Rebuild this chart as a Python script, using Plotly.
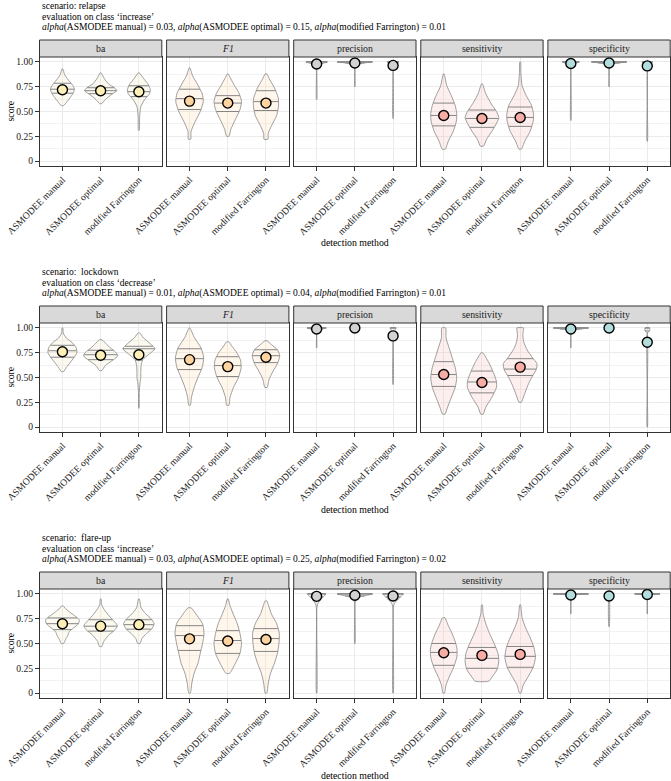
import plotly.graph_objects as go
import numpy as np

# ---------------- data ----------------
methods = ["ASMODEE manual", "ASMODEE optimal", "modified Farrington"]
metrics = ["ba", "F1", "precision", "sensitivity", "specificity"]
metric_labels = ["ba", "<i>F1</i>", "precision", "sensitivity", "specificity"]
scenarios = ["relapse", "lockdown", "flare-up"]
eval_classes = ["increase", "decrease", "increase"]
alpha_manual = [0.03, 0.01, 0.03]
alpha_optimal = [0.15, 0.04, 0.25]
alpha_farrington = [0.01, 0.01, 0.02]
y_ticks = [0, 0.25, 0.5, 0.75, 1.0]
y_ticklabels = ["0", "0.25", "0.50", "0.75", "1.00"]

# mean score per metric, per method
relapse_means = {"ba": [0.72, 0.71, 0.70], "F1": [0.605, 0.585, 0.585],
                 "precision": [0.98, 0.99, 0.965], "sensitivity": [0.46, 0.43, 0.44],
                 "specificity": [0.985, 0.99, 0.96]}
lockdown_means = {"ba": [0.76, 0.725, 0.73], "F1": [0.68, 0.61, 0.705],
                  "precision": [0.99, 1.0, 0.92], "sensitivity": [0.53, 0.45, 0.605],
                  "specificity": [0.99, 1.0, 0.855]}
flareup_means = {"ba": [0.70, 0.675, 0.69], "F1": [0.547, 0.525, 0.54],
                 "precision": [0.976, 0.987, 0.98], "sensitivity": [0.406, 0.38, 0.39],
                 "specificity": [0.99, 0.98, 0.995]}

# quartiles (25%, 50%, 75%) per metric, per method
relapse_quartiles = {"ba": [[0.685, 0.725, 0.785], [0.68, 0.71, 0.74], [0.65, 0.70, 0.76]],
                     "F1": [[0.52, 0.63, 0.725], [0.50, 0.585, 0.66], [0.51, 0.60, 0.71]],
                     "precision": [[0.98, 1.0, 1.0], [0.99, 1.0, 1.0], [0.97, 1.0, 1.0]],
                     "sensitivity": [[0.355, 0.46, 0.585], [0.34, 0.43, 0.515], [0.35, 0.44, 0.545]],
                     "specificity": [[0.98, 1.0, 1.0], [0.99, 1.0, 1.0], [0.97, 1.0, 1.0]]}
lockdown_quartiles = {"ba": [[0.705, 0.77, 0.825], [0.68, 0.73, 0.775], [0.675, 0.79, 0.815]],
                      "F1": [[0.58, 0.69, 0.79], [0.51, 0.62, 0.71], [0.65, 0.72, 0.78]],
                      "precision": [[0.99, 1.0, 1.0], [1.0, 1.0, 1.0], [0.95, 1.0, 1.0]],
                      "sensitivity": [[0.41, 0.53, 0.66], [0.345, 0.455, 0.565], [0.52, 0.585, 0.69]],
                      "specificity": [[0.99, 1.0, 1.0], [1.0, 1.0, 1.0], [0.97, 1.0, 1.0]]}
flareup_quartiles = {"ba": [[0.64, 0.70, 0.758], [0.625, 0.675, 0.74], [0.645, 0.69, 0.74]],
                     "F1": [[0.43, 0.58, 0.68], [0.40, 0.53, 0.63], [0.42, 0.55, 0.65]],
                     "precision": [[0.97, 1.0, 1.0], [0.98, 1.0, 1.0], [0.97, 1.0, 1.0]],
                     "sensitivity": [[0.28, 0.41, 0.50], [0.25, 0.35, 0.46], [0.26, 0.37, 0.47]],
                     "specificity": [[0.99, 1.0, 1.0], [1.0, 1.0, 1.0], [0.99, 1.0, 1.0]]}

# violin density outline: [score, half-width] pairs per method
relapse_shapes = {
    "ba": [[[0.56, 0.03], [0.60, 0.12], [0.65, 0.22], [0.70, 0.30], [0.73, 0.31], [0.77, 0.26], [0.82, 0.15], [0.87, 0.06], [0.93, 0.01]],
           [[0.58, 0.03], [0.62, 0.12], [0.67, 0.28], [0.71, 0.42], [0.74, 0.36], [0.78, 0.20], [0.83, 0.10], [0.89, 0.01]],
           [[0.31, 0.01], [0.45, 0.02], [0.55, 0.05], [0.62, 0.15], [0.68, 0.28], [0.72, 0.30], [0.77, 0.25], [0.82, 0.15], [0.89, 0.01]]],
    "F1": [[[0.22, 0.03], [0.30, 0.04], [0.40, 0.15], [0.50, 0.28], [0.60, 0.36], [0.68, 0.33], [0.78, 0.20], [0.86, 0.08], [0.94, 0.01]],
           [[0.25, 0.03], [0.32, 0.08], [0.42, 0.20], [0.52, 0.32], [0.60, 0.36], [0.68, 0.30], [0.76, 0.18], [0.83, 0.08], [0.88, 0.01]],
           [[0.22, 0.05], [0.28, 0.06], [0.36, 0.15], [0.46, 0.28], [0.56, 0.33], [0.64, 0.32], [0.74, 0.22], [0.82, 0.10], [0.88, 0.02]]],
    "precision": [[[0.62, 0.005], [0.90, 0.005], [0.95, 0.01], [0.97, 0.05], [0.99, 0.20], [1.0, 0.28]],
                  [[0.75, 0.005], [0.95, 0.005], [0.97, 0.02], [0.99, 0.25], [1.0, 0.46]],
                  [[0.43, 0.005], [0.90, 0.005], [0.95, 0.02], [0.98, 0.08], [1.0, 0.15]]],
    "sensitivity": [[[0.12, 0.04], [0.20, 0.12], [0.30, 0.25], [0.40, 0.33], [0.48, 0.34], [0.56, 0.30], [0.66, 0.20], [0.76, 0.08], [0.88, 0.01]],
                    [[0.15, 0.04], [0.22, 0.12], [0.30, 0.26], [0.38, 0.38], [0.44, 0.44], [0.50, 0.38], [0.58, 0.24], [0.68, 0.10], [0.78, 0.01]],
                    [[0.12, 0.03], [0.20, 0.12], [0.30, 0.26], [0.40, 0.34], [0.47, 0.35], [0.56, 0.30], [0.66, 0.16], [0.76, 0.05], [0.88, 0.02], [1.0, 0.01]]],
    "specificity": [[[0.41, 0.005], [0.93, 0.005], [0.96, 0.02], [0.98, 0.08], [1.0, 0.22]],
                    [[0.75, 0.005], [0.95, 0.005], [0.98, 0.10], [1.0, 0.46]],
                    [[0.20, 0.005], [0.95, 0.005], [0.98, 0.05], [1.0, 0.14]]],
}
lockdown_shapes = {
    "ba": [[[0.56, 0.03], [0.60, 0.10], [0.65, 0.20], [0.70, 0.30], [0.75, 0.38], [0.80, 0.36], [0.85, 0.26], [0.90, 0.10], [0.95, 0.02], [1.0, 0.01]],
           [[0.57, 0.03], [0.62, 0.12], [0.67, 0.30], [0.72, 0.45], [0.76, 0.38], [0.80, 0.25], [0.84, 0.14], [0.88, 0.04]],
           [[0.19, 0.005], [0.35, 0.01], [0.45, 0.03], [0.50, 0.05], [0.55, 0.05], [0.62, 0.06], [0.68, 0.10], [0.74, 0.28], [0.79, 0.42], [0.84, 0.30], [0.90, 0.12], [0.95, 0.02]]],
    "F1": [[[0.22, 0.02], [0.30, 0.05], [0.40, 0.12], [0.50, 0.22], [0.60, 0.33], [0.70, 0.37], [0.80, 0.30], [0.90, 0.13], [1.0, 0.01]],
           [[0.22, 0.03], [0.30, 0.06], [0.40, 0.15], [0.50, 0.28], [0.60, 0.35], [0.68, 0.33], [0.76, 0.22], [0.82, 0.10], [0.86, 0.03]],
           [[0.40, 0.03], [0.48, 0.08], [0.56, 0.18], [0.64, 0.30], [0.72, 0.36], [0.78, 0.30], [0.83, 0.15], [0.87, 0.03]]],
    "precision": [[[0.80, 0.005], [0.95, 0.01], [0.98, 0.08], [1.0, 0.25]],
                  [[0.99, 0.005], [1.0, 0.01]],
                  [[0.43, 0.005], [0.85, 0.005], [0.90, 0.01], [0.95, 0.03], [0.98, 0.05], [1.0, 0.08]]],
    "sensitivity": [[[0.13, 0.03], [0.20, 0.10], [0.30, 0.20], [0.40, 0.30], [0.50, 0.34], [0.60, 0.30], [0.70, 0.22], [0.80, 0.14], [0.90, 0.06], [1.0, 0.05]],
                    [[0.13, 0.03], [0.20, 0.10], [0.30, 0.26], [0.40, 0.38], [0.46, 0.38], [0.55, 0.30], [0.65, 0.18], [0.75, 0.02]],
                    [[0.25, 0.03], [0.32, 0.10], [0.42, 0.20], [0.50, 0.30], [0.58, 0.42], [0.64, 0.44], [0.70, 0.32], [0.78, 0.18], [0.85, 0.10], [0.92, 0.07], [0.97, 0.08], [1.0, 0.09]]],
    "specificity": [[[0.80, 0.005], [0.95, 0.01], [0.98, 0.10], [1.0, 0.46]],
                    [[0.995, 0.005], [1.0, 0.01]],
                    [[0.0, 0.005], [0.95, 0.005], [0.97, 0.06], [1.0, 0.06]]],
}
flareup_shapes = {
    "ba": [[[0.50, 0.03], [0.54, 0.08], [0.58, 0.14], [0.62, 0.18], [0.66, 0.30], [0.70, 0.42], [0.74, 0.44], [0.78, 0.32], [0.82, 0.18], [0.86, 0.06], [0.88, 0.02]],
           [[0.47, 0.03], [0.52, 0.08], [0.58, 0.20], [0.64, 0.38], [0.68, 0.44], [0.72, 0.36], [0.78, 0.22], [0.85, 0.08], [0.90, 0.02], [0.95, 0.01]],
           [[0.50, 0.03], [0.55, 0.08], [0.60, 0.20], [0.65, 0.34], [0.70, 0.40], [0.75, 0.32], [0.80, 0.18], [0.86, 0.06], [0.95, 0.01]]],
    "F1": [[[0.0, 0.02], [0.10, 0.06], [0.20, 0.12], [0.30, 0.22], [0.40, 0.28], [0.50, 0.34], [0.60, 0.38], [0.70, 0.34], [0.78, 0.20], [0.86, 0.04]],
           [[0.20, 0.05], [0.30, 0.20], [0.40, 0.32], [0.50, 0.36], [0.60, 0.32], [0.70, 0.25], [0.80, 0.14], [0.88, 0.06], [0.95, 0.01]],
           [[0.0, 0.02], [0.10, 0.06], [0.20, 0.12], [0.30, 0.22], [0.40, 0.30], [0.50, 0.34], [0.60, 0.35], [0.70, 0.28], [0.80, 0.14], [0.93, 0.02]]],
    "precision": [[[0.0, 0.005], [0.85, 0.005], [0.90, 0.03], [0.95, 0.12], [0.98, 0.20], [1.0, 0.24]],
                  [[0.50, 0.005], [0.90, 0.005], [0.93, 0.02], [0.97, 0.15], [1.0, 0.46]],
                  [[0.0, 0.005], [0.85, 0.005], [0.90, 0.03], [0.95, 0.14], [0.98, 0.22], [1.0, 0.27]]],
    "sensitivity": [[[0.0, 0.02], [0.08, 0.06], [0.16, 0.14], [0.26, 0.26], [0.36, 0.34], [0.44, 0.35], [0.52, 0.30], [0.60, 0.22], [0.68, 0.12], [0.76, 0.03]],
                    [[0.12, 0.18], [0.16, 0.26], [0.24, 0.40], [0.32, 0.44], [0.40, 0.42], [0.50, 0.32], [0.60, 0.20], [0.70, 0.10], [0.80, 0.03], [0.89, 0.01]],
                    [[0.0, 0.02], [0.08, 0.08], [0.16, 0.20], [0.26, 0.34], [0.36, 0.40], [0.46, 0.36], [0.56, 0.26], [0.66, 0.14], [0.76, 0.05], [0.89, 0.01]]],
    "specificity": [[[0.80, 0.005], [0.97, 0.005], [0.99, 0.10], [1.0, 0.46]],
                    [[0.67, 0.005], [1.0, 0.005]],
                    [[0.80, 0.005], [0.97, 0.005], [0.99, 0.10], [1.0, 0.33]]],
}

all_means = [relapse_means, lockdown_means, flareup_means]
all_quartiles = [relapse_quartiles, lockdown_quartiles, flareup_quartiles]
all_shapes = [relapse_shapes, lockdown_shapes, flareup_shapes]

# ---------------- style ----------------
W, H = 671, 781
FONT = "Liberation Serif, Times New Roman, serif"
point_colors = {"ba": "#FCF0B6", "F1": "#FDD4A0", "precision": "#D2D2D2",
                "sensitivity": "#F7ADA5", "specificity": "#B3DCDD"}
fill_colors = {"ba": "rgba(240,232,200,0.28)", "F1": "rgba(253,212,160,0.2)",
               "precision": "rgba(210,210,210,0.25)", "sensitivity": "rgba(247,173,165,0.2)",
               "specificity": "rgba(179,220,221,0.25)"}
outline = "#868686"

# positions in page pixels
col_px = [(39.5, 161.8), (166.6, 288.9), (293.7, 416.0), (420.8, 543.1), (547.9, 670.2)]
group_off = [0, 266, 532]
panel_top0, panel_h, strip_h = 57.0, 109.0, 17.0

fig = go.Figure()
layout = {}
shapes = []
annotations = []


def px_x(v):
    return v / W


def px_y(v):
    return 1 - v / H


for r in range(3):
    g = group_off[r]
    ptop = panel_top0 + g
    pbot = ptop + panel_h
    for c, m in enumerate(metrics):
        idx = r * 5 + c + 1
        xa = "x" if idx == 1 else f"x{idx}"
        ya = "y" if idx == 1 else f"y{idx}"
        xs, ys = [], []
        qx, qy = [], []
        for k in range(3):
            prof = np.array(all_shapes[r][m][k], dtype=float)
            s, w = prof[:, 0], prof[:, 1]
            cx = k + 1
            xs += list(cx + w) + list(cx - w[::-1]) + [cx + w[0], None]
            ys += list(s) + list(s[::-1]) + [s[0], None]
            for q in all_quartiles[r][m][k]:
                if q < s[0] or q > s[-1]:
                    continue
                hw = float(np.interp(q, s, w))
                qx += [cx - hw, cx + hw, None]
                qy += [q, q, None]
        fig.add_trace(go.Scatter(x=xs, y=ys, xaxis=xa, yaxis=ya, mode="lines",
                                 fill="toself", fillcolor=fill_colors[m],
                                 line=dict(color=outline, width=0.8, shape="spline", smoothing=0.6),
                                 hoverinfo="skip", showlegend=False))
        fig.add_trace(go.Scatter(x=qx, y=qy, xaxis=xa, yaxis=ya, mode="lines",
                                 line=dict(color=outline, width=1.0),
                                 hoverinfo="skip", showlegend=False))
        fig.add_trace(go.Scatter(x=[1, 2, 3], y=all_means[r][m], xaxis=xa, yaxis=ya,
                                 mode="markers",
                                 marker=dict(size=10, color=point_colors[m],
                                             line=dict(color="black", width=1.4)),
                                 showlegend=False))
        x0, x1 = col_px[c]
        kx = "xaxis" if idx == 1 else f"xaxis{idx}"
        ky = "yaxis" if idx == 1 else f"yaxis{idx}"
        layout[kx] = dict(domain=[px_x(x0), min(1.0, px_x(x1))], anchor=ya, range=[0.4, 3.6],
                          automargin=False,
                          tickvals=[1, 2, 3], ticktext=methods, tickangle=-45,
                          showgrid=True, gridcolor="#EBEBEB", gridwidth=1, zeroline=False,
                          showline=True, mirror=True, linecolor="#333333", linewidth=1,
                          ticks="outside", ticklen=3.5, tickcolor="#333333", tickwidth=1,
                          tickfont=dict(family=FONT, size=9.6, color="#1a1a1a"))
        layout[ky] = dict(domain=[px_y(pbot), px_y(ptop)], anchor=xa, range=[-0.05, 1.05],
                          automargin=False,
                          tickvals=y_ticks, ticktext=y_ticklabels,
                          showticklabels=(c == 0), ticks="outside" if c == 0 else "",
                          ticklen=3.5, tickcolor="#333333", tickwidth=1,
                          showgrid=True, gridcolor="#EBEBEB", gridwidth=1, zeroline=False,
                          showline=True, mirror=True, linecolor="#333333", linewidth=1,
                          minor=dict(tickvals=[0.125, 0.375, 0.625, 0.875], showgrid=True,
                                     gridcolor="#F2F2F2", gridwidth=0.6),
                          tickfont=dict(family=FONT, size=9.6, color="#1a1a1a"))
        # strip
        shapes.append(dict(type="rect", xref="paper", yref="paper",
                           x0=px_x(x0), x1=min(1.0, px_x(x1)), y0=px_y(ptop), y1=px_y(ptop - strip_h),
                           fillcolor="#D9D9D9", line=dict(color="#333333", width=1), layer="above"))
        annotations.append(dict(xref="paper", yref="paper", x=px_x((x0 + x1) / 2),
                                y=px_y(ptop - strip_h / 2), text=metric_labels[c], showarrow=False,
                                xanchor="center", yanchor="middle",
                                font=dict(family=FONT, size=9.8, color="#1a1a1a")))
    # group titles
    lines = [f"scenario:\u00a0 {scenarios[r]}" if r > 0 else f"scenario: {scenarios[r]}",
             f"evaluation on class \u2018{eval_classes[r]}\u2019",
             f"<i>alpha</i>(ASMODEE manual) = {alpha_manual[r]:.2f}, "
             f"<i>alpha</i>(ASMODEE optimal) = {alpha_optimal[r]:.2f}, "
             f"<i>alpha</i>(modified Farrington) = {alpha_farrington[r]:.2f}"]
    for li, txt in enumerate(lines):
        annotations.append(dict(xref="paper", yref="paper", x=px_x(39.5), y=px_y(g + 6 + li * 10.8),
                                text=txt, showarrow=False, xanchor="left", yanchor="middle",
                                font=dict(family=FONT, size=9.5, color="black")))
    annotations.append(dict(xref="paper", yref="paper", x=px_x(355), y=px_y(g + 243),
                            text="detection method", showarrow=False, xanchor="center",
                            yanchor="middle", font=dict(family=FONT, size=9.8, color="black")))
    annotations.append(dict(xref="paper", yref="paper", x=px_x(10), y=px_y(ptop + panel_h / 2),
                            text="score", showarrow=False, textangle=-90, xanchor="center",
                            yanchor="middle", font=dict(family=FONT, size=9.8, color="black")))

fig.update_layout(width=W, height=H, margin=dict(l=0, r=0, t=0, b=0, autoexpand=False),
                  paper_bgcolor="white", plot_bgcolor="white", hovermode=False,
                  shapes=shapes, annotations=annotations, **layout)
fig.write_html("out.html", config={"displayModeBar": False},
               post_script="document.body.style.margin='0px';")
